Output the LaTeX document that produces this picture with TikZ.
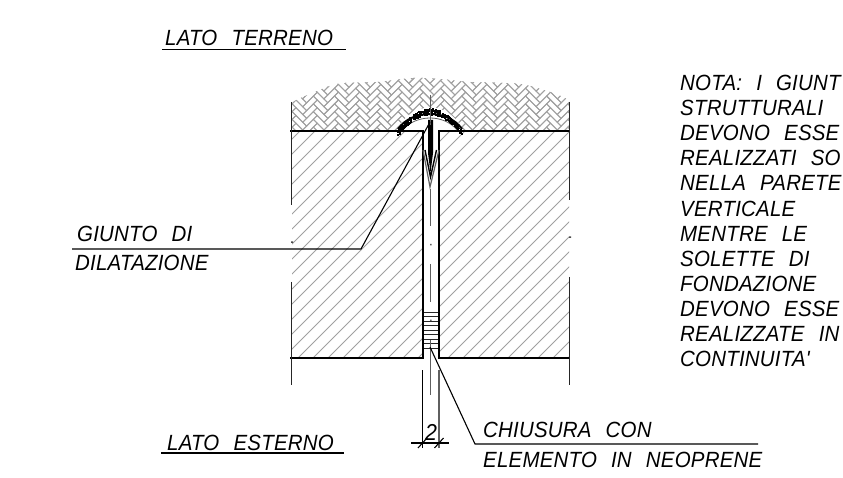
\documentclass[tikz,border=0pt]{standalone}
\usepackage{xcolor}
\usepackage{fontspec}
\newfontfamily\cadfont[FakeStretch=0.93,LetterSpace=1,WordSpace=2.4]{Liberation Sans Italic}
\usetikzlibrary{positioning}
\definecolor{hatchgray}{RGB}{160,160,160}
\definecolor{axisgray}{RGB}{95,95,95}

\begin{document}
\begin{tikzpicture}[
    x=1pt, y=-1pt,
    outline/.style={line width=2.6pt, black},
    sideline/.style={line width=1.4pt, black!85},
    thinline/.style={line width=1.1pt, black},
    hatchline/.style={line width=0.9pt, hatchgray},
    brick/.style={line width=0.9pt, draw=hatchgray},
    axisline/.style={line width=1.3pt, axisgray},
    label/.style={anchor=base west, inner sep=0pt, font=\fontsize{22}{25}\selectfont\cadfont},
    nota/.style={anchor=north west, inner sep=0pt, align=left, font=\fontsize{22}{25.1}\selectfont\cadfont}
]
    \path[fill=white] (0,0) rectangle (843,478);
    \useasboundingbox (0,0) rectangle (843,478);

    % Hatch of the walls
    \begin{scope}
        \clip (292,132) rectangle (422,357) (440,132) rectangle (569,357);
        \foreach \c in {416,431,...,926} {
            \draw[hatchline] (\c-125,125) -- (\c-365,365);
        }
    \end{scope}

    % Ground
    \begin{scope}
        \clip plot[smooth] coordinates {(291,103) (303,97) (337,84) (377,82) (413,78) (440,79) (470,82) (520,84) (553,93) (569,100)} -- (569,130) -- (291,130) -- cycle;
        \begin{scope}[shift={(430,130)}, rotate=45]
            \foreach \i in {-12,...,12} {
                \foreach \j in {-9,...,9} {
                    \draw[brick, shift={({\i*5.5+\j*15},{-\i*5.5+\j*15})}] (0,0) rectangle (15,5.5);
                    \draw[brick, shift={({\i*5.5+\j*15},{-\i*5.5+\j*15})}] (15,0) rectangle (20.5,15);
                }
            }
        \end{scope}
    \end{scope}

    % Walls
    \draw[outline] (290,131) -- (423,131) -- (423,358) -- (290,358);
    \draw[outline] (570,131) -- (439,131) -- (439,358) -- (570,358);
    \draw[sideline] (291.5,102) -- (291.5,205) (291.5,282) -- (291.5,385);
    \draw[sideline] (569.5,102) -- (569.5,200) (569.5,277) -- (569.5,385);
    \fill[black!70] (291,241.5) rectangle (293,243) (569,236.5) rectangle (571,238);

    % Seal
    \fill[white] (397,130) .. controls (412,100) and (448,100) .. (463,130) -- cycle;
    \draw[line width=2pt, black] (398,129) .. controls (412,109) and (448,109) .. (462,129);
    \draw[line width=0.8pt, axisgray] (403,130) .. controls (416,114) and (444,114) .. (457,130);
    \pgfmathsetseed{7}
    \foreach \i in {1,...,260} {
        \pgfmathsetmacro{\px}{397+65*rnd}
        \pgfmathsetmacro{\py}{130-22*(1-((\px-429.5)/32.5)^2)+6*rnd}
        \fill[black] (\px,\py) rectangle ++(1.8,1.8);
    }
    \draw[line width=1.2pt, axisgray] (423,150) -- (430,187) -- (439,150);
    \draw[line width=1.4pt, black] (425,150) -- (430.5,177) -- (436.5,150);
    \fill[black] (428,120) -- (433,120) -- (433,153) -- (430.5,173) -- (428,153) -- cycle;

    % Neoprene
    \foreach \y in {312,316.5,...,349} {
        \draw[line width=1pt, black!85] (424,\y) -- (438,\y);
    }

    % Axis
    \draw[axisline] (430.5,95) -- (430.5,125);
    \draw[axisline] (430.5,189) -- (430.5,226);
    \draw[axisline] (430.5,264) -- (430.5,302);
    \draw[axisline] (430.5,340) -- (430.5,395);
    \fill[axisgray] (430,244) rectangle (431.5,245.5) (430,319.5) rectangle (431.5,321);

    % Dimension
    \coordinate (dimleft) at (422.5,443);
    \coordinate (dimright) at (439,443);
    \draw[thinline] (422.5,370) -- (422.5,448);
    \draw[line width=1.1pt, axisgray] (439,370) -- (439,448);
    \draw[thinline] (411,443) -- (dimleft) -- (dimright) -- (449,443);
    \draw[thinline] (418,448) -- (427,438);
    \draw[thinline] (434.5,448) -- (443.5,438);
    \node[anchor=base, inner sep=0pt, font=\fontsize{23}{25}\selectfont\cadfont] (dimtext) at (431,440) {2};

    % Nodes
    \node[label] (terreno) at (165,46) {LATO TERRENO};
    \node[label] (esterno) at (167,450) {LATO ESTERNO};
    \node[label] (giunto) at (77,242) {GIUNTO DI};
    \node[label] (dilatazione) at (75,271) {DILATAZIONE};
    \node[label] (chiusura) at (483,437) {CHIUSURA CON};
    \node[label] (elemento) at (483,467) {ELEMENTO IN NEOPRENE};
    \node[nota] (notatext) at (680,75) {NOTA: I GIUNT\\STRUTTURALI\\DEVONO ESSE\\REALIZZATI SO\\NELLA PARETE\\VERTICALE\\MENTRE LE\\SOLETTE DI\\FONDAZIONE\\DEVONO ESSE\\REALIZZATE IN\\CONTINUITA'};

    \coordinate (giuntotip) at (430,122);
    \coordinate (giuntobend) at (361,249);
    \coordinate (giuntoend) at (72,249);
    \coordinate (chiusuratip) at (430,347);
    \coordinate (chiusurabend) at (475,444);
    \coordinate (chiusuraend) at (758,444);

    % Leaders
    \draw[thinline] (giuntotip) -- (giuntobend) -- (giuntoend);
    \draw[thinline] (chiusuratip) -- (chiusurabend) -- (chiusuraend);
    \draw[thinline] (162,49.5) -- (346,49.5);
    \draw[thinline] (161,453) -- (344,453);
\end{tikzpicture}
\end{document}
